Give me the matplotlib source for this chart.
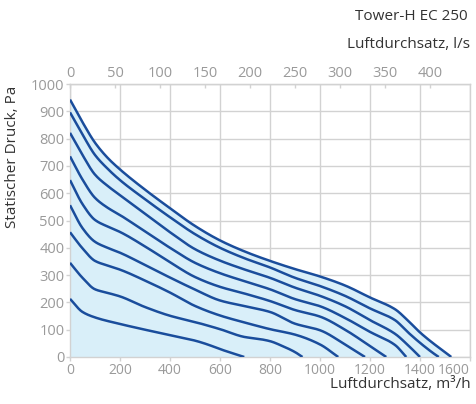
import numpy as np
import matplotlib
matplotlib.use("Agg")
import matplotlib.pyplot as plt

# ---- data ----
title = "Tower-H EC 250"
xlabel_bottom = "Luftdurchsatz, m³/h"
xlabel_top = "Luftdurchsatz, l/s"
ylabel = "Statischer Druck, Pa"

x_c1 = [0, 50, 100, 150, 200, 300, 400, 500, 600, 700, 800, 900, 1000, 1100, 1200, 1300, 1350, 1400, 1450, 1500, 1525]
y_c1 = [943, 860, 785, 730, 687, 613, 545, 480, 427, 386, 352, 322, 295, 262, 218, 175, 135, 90, 52, 18, 0]

x_c2 = [0, 50, 100, 150, 200, 300, 400, 500, 600, 700, 800, 900, 1000, 1100, 1200, 1300, 1350, 1400, 1450, 1475]
y_c2 = [896, 815, 740, 690, 648, 578, 512, 450, 400, 361, 328, 290, 260, 224, 178, 135, 92, 52, 16, 0]

x_c3 = [0, 50, 100, 150, 200, 300, 400, 500, 600, 700, 800, 900, 1000, 1100, 1200, 1300, 1350, 1400]
y_c3 = [821, 740, 668, 627, 593, 525, 457, 395, 353, 320, 290, 254, 224, 186, 135, 85, 45, 0]

x_c4 = [0, 50, 100, 150, 200, 300, 400, 500, 600, 700, 800, 900, 1000, 1100, 1200, 1300, 1345]
y_c4 = [735, 650, 583, 547, 520, 460, 400, 345, 307, 277, 248, 212, 186, 143, 92, 44, 0]

x_c5 = [0, 50, 100, 150, 200, 300, 400, 500, 600, 700, 800, 900, 1000, 1100, 1200, 1265]
y_c5 = [648, 560, 502, 478, 458, 405, 347, 293, 257, 232, 205, 172, 148, 100, 40, 0]

x_c6 = [0, 50, 100, 150, 200, 300, 400, 500, 600, 700, 800, 900, 1000, 1100, 1180]
y_c6 = [556, 472, 422, 400, 382, 337, 291, 247, 207, 186, 165, 122, 98, 46, 0]

x_c7 = [0, 50, 100, 150, 200, 300, 400, 500, 600, 700, 800, 900, 1000, 1073]
y_c7 = [457, 398, 352, 335, 320, 280, 236, 187, 152, 126, 102, 82, 46, 0]

x_c8 = [0, 50, 100, 150, 200, 300, 400, 500, 600, 700, 750, 800, 850, 900, 930]
y_c8 = [345, 290, 248, 235, 222, 183, 151, 128, 102, 73, 67, 58, 40, 18, 0]

x_c9 = [0, 50, 100, 200, 300, 400, 500, 550, 600, 697]
y_c9 = [213, 165, 145, 121, 100, 80, 60, 46, 29, 0]

curves_x = [x_c1, x_c2, x_c3, x_c4, x_c5, x_c6, x_c7, x_c8, x_c9]
curves_y = [y_c1, y_c2, y_c3, y_c4, y_c5, y_c6, y_c7, y_c8, y_c9]

x_ticks = [0, 200, 400, 600, 800, 1000, 1200, 1400, 1600]
y_ticks = [0, 100, 200, 300, 400, 500, 600, 700, 800, 900, 1000]
top_ticks = [0, 50, 100, 150, 200, 250, 300, 350, 400]


def pchip(x, y, xn):
    x = np.asarray(x, float); y = np.asarray(y, float)
    h = np.diff(x); d = np.diff(y) / h
    n = len(x)
    m = np.zeros(n)
    for k in range(1, n - 1):
        if d[k - 1] * d[k] > 0:
            w1 = 2 * h[k] + h[k - 1]; w2 = h[k] + 2 * h[k - 1]
            m[k] = (w1 + w2) / (w1 / d[k - 1] + w2 / d[k])
    m[0] = d[0]; m[-1] = d[-1]
    idx = np.clip(np.searchsorted(x, xn) - 1, 0, n - 2)
    t = (xn - x[idx]) / h[idx]
    h00 = 2 * t**3 - 3 * t**2 + 1; h10 = t**3 - 2 * t**2 + t
    h01 = -2 * t**3 + 3 * t**2; h11 = t**3 - t**2
    return h00 * y[idx] + h10 * h[idx] * m[idx] + h01 * y[idx + 1] + h11 * h[idx] * m[idx + 1]


plt.rcParams['font.family'] = ['Open Sans', 'DejaVu Sans']

fig = plt.figure(figsize=(4.77, 4.04), dpi=100)
ax = fig.add_axes([70 / 477, 1 - 357 / 404, 400 / 477, 273 / 404])

line_color = "#1a4d9c"
fill_color = "#d9eff9"
grid_color = "#d2d2d2"
tick_color = "#9a9a9a"
text_color = "#333333"

# fill under top curve
xs = np.linspace(x_c1[0], x_c1[-1], 400)
ys = pchip(x_c1, y_c1, xs)
ax.fill_between(xs, 0, ys, color=fill_color, lw=0, zorder=1)

for cx, cy in zip(curves_x, curves_y):
    xs = np.linspace(cx[0], cx[-1], 400)
    ys = pchip(cx, cy, xs)
    ax.plot(xs, ys, color=line_color, lw=1.8, zorder=3, solid_capstyle='butt')

ax.set_xlim(0, 1600)
ax.set_ylim(0, 1000)
ax.set_xticks(x_ticks)
ax.set_yticks(y_ticks)
ax.grid(True, color=grid_color, lw=1.0, zorder=0)
ax.set_axisbelow(True)
for s in ax.spines.values():
    s.set_color(grid_color)
    s.set_linewidth(1.0)
ax.tick_params(axis='both', colors=grid_color, labelcolor=tick_color, labelsize=10,
               length=3, width=1, pad=1)
ax.tick_params(axis='y', labelsize=10.5)
ax.get_xticklabels()[-1].set_horizontalalignment('right')

sec = ax.secondary_xaxis('top', functions=(lambda v: v / 3.6, lambda v: v * 3.6))
sec.set_xticks(top_ticks)
sec.tick_params(axis='x', colors=grid_color, labelcolor=tick_color, labelsize=10.5,
                length=3, width=1, direction='in', pad=2)
sec.spines['top'].set_color(grid_color)

fig.text(468 / 477, 1 - 17 / 404, title, ha='right', va='center', fontsize=11, color=text_color)
fig.text(470 / 477, 1 - 45 / 404, xlabel_top, ha='right', va='center', fontsize=11, color=text_color)
fig.text(471 / 477, 1 - 384 / 404, xlabel_bottom, ha='right', va='center', fontsize=11, color=text_color)
fig.text(13 / 477, 1 - 86 / 404, ylabel, ha='center', va='top', rotation=90, fontsize=11, color=text_color)

fig.savefig("out.png", dpi=100)
